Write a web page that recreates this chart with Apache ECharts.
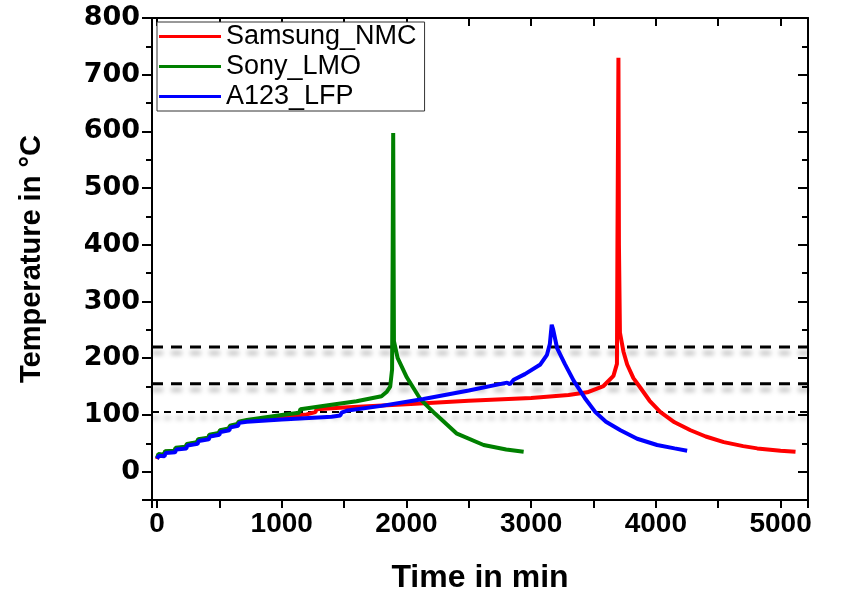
<!DOCTYPE html>
<html>
<head>
<meta charset="utf-8">
<script src="https://cdn.jsdelivr.net/npm/echarts@6/dist/echarts.min.js"></script>
<style>
  html, body { margin: 0; padding: 0; background: #fff; }
  #chart { width: 846px; height: 599px; }
</style>
</head>
<body>
<div id="chart"></div>
<script>
// time (min), temperature (°C)
const samsungNMC = [
  [0, 22], [12, 30], [55, 29], [65, 35], [140, 36], [150, 41], [230, 43], [240, 48],
  [320, 51], [330, 56], [410, 59], [420, 64], [495, 67], [505, 72], [575, 75], [585, 80],
  [645, 83], [655, 87], [720, 90], [1000, 96], [1200, 101], [1210, 104], [1270, 105],
  [1280, 110], [1500, 113], [2000, 119], [2500, 125], [3000, 130], [3300, 135],
  [3450, 140], [3580, 151], [3660, 169], [3688, 190], [3692, 400], [3700, 730],
  [3704, 400], [3712, 245], [3740, 212], [3770, 189], [3820, 165], [3876, 148],
  [3950, 125], [4037, 105], [4150, 87], [4278, 73], [4400, 62], [4545, 52],
  [4700, 45], [4813, 41], [5000, 37], [5120, 35]
];
const sonyLMO = [
  [0, 24], [12, 31], [55, 30], [65, 36], [140, 37], [150, 42], [230, 44], [240, 49],
  [320, 52], [330, 57], [410, 60], [420, 65], [495, 68], [505, 73], [575, 76], [585, 81],
  [645, 84], [655, 88], [720, 91], [1000, 100], [1140, 104], [1150, 110], [1400, 118],
  [1600, 124], [1800, 133], [1843, 141], [1870, 150], [1885, 180], [1890, 400],
  [1894, 597], [1897, 400], [1900, 230], [1930, 200], [2004, 166], [2111, 128],
  [2231, 102], [2405, 67], [2619, 47], [2800, 39], [2940, 35]
];
const a123LFP = [
  [0, 23], [15, 28], [60, 27], [70, 33], [145, 34], [155, 39], [235, 41], [245, 46],
  [325, 49], [335, 54], [415, 57], [425, 62], [500, 65], [510, 70], [580, 73], [590, 78],
  [650, 81], [660, 86], [720, 88], [1000, 92], [1400, 97], [1470, 99], [1480, 104],
  [1530, 108], [1800, 116], [2137, 128], [2500, 143], [2807, 157], [2830, 154],
  [2860, 162], [2950, 172], [3074, 189], [3127, 206], [3150, 225], [3165, 259],
  [3175, 252], [3208, 218], [3270, 190], [3342, 160], [3430, 130], [3515, 105],
  [3600, 88], [3716, 73], [3850, 58], [4010, 47], [4150, 41], [4251, 37]
];
const thresholds = [220, 155, 105];
const seriesNames = ['Samsung_NMC', 'Sony_LMO', 'A123_LFP'];
const xMin = -40, xMax = 5220, lineEnd = 5530;
const yMin = -50, yMax = 800;

const chart = echarts.init(document.getElementById('chart'));

const tickFont = { color: '#000', fontWeight: 'bold' };

function curve(name, data, color) {
  return {
    name: name,
    type: 'line',
    data: data,
    symbol: 'none',
    z: 3,
    lineStyle: { color: color, width: 4 },
    itemStyle: { color: color }
  };
}

function dashed(v, i) {
  const thin = i === 2;
  return {
    type: 'line',
    data: [[xMin, v], [lineEnd, v]],
    symbol: 'none',
    clip: false,
    silent: true,
    z: 2,
    lineStyle: {
      color: '#000',
      width: thin ? 2 : 3,
      type: thin ? [7, 5] : [11, 8],
      shadowColor: 'rgba(0,0,0,0.35)',
      shadowBlur: 5,
      shadowOffsetY: 6
    }
  };
}

chart.setOption({
  animation: false,
  backgroundColor: '#fff',
  grid: { left: 152, right: 38, top: 18, bottom: 87 },
  legend: {
    data: seriesNames,
    orient: 'vertical',
    left: 157,
    top: 22,
    icon: 'rect',
    itemWidth: 62,
    itemHeight: 3,
    itemGap: 3,
    padding: [1, 8, 1, 2],
    borderColor: '#333',
    borderWidth: 1,
    borderRadius: 0,
    backgroundColor: '#fff',
    textStyle: { fontFamily: 'Liberation Sans, Arial', fontSize: 27, color: '#000' }
  },
  xAxis: [
    {
      type: 'value',
      min: xMin,
      max: xMax,
      name: 'Time in min',
      nameLocation: 'middle',
      nameGap: 62,
      nameTextStyle: { fontFamily: 'Liberation Sans, Arial', fontSize: 32, fontWeight: 'bold', color: '#000' },
      axisLine: { onZero: false, lineStyle: { color: '#000', width: 2 } },
      axisTick: { length: 8, lineStyle: { color: '#000', width: 2 } },
      minorTick: { show: true, splitNumber: 2, length: 8, lineStyle: { color: '#000', width: 2 } },
      splitLine: { show: false },
      axisLabel: Object.assign({
        fontFamily: 'Liberation Sans, Arial', fontSize: 28, margin: 10,
        showMinLabel: false, showMaxLabel: false,
        formatter: function (v) { return String(v); }
      }, tickFont)
    },
    {
      type: 'value',
      position: 'top',
      min: xMin,
      max: xMax,
      axisLine: { onZero: false, lineStyle: { color: '#000', width: 2 } },
      axisTick: { inside: true, length: 8, lineStyle: { color: '#000', width: 2 } },
      minorTick: { show: true, splitNumber: 2, length: 8, lineStyle: { color: '#000', width: 2 } },
      splitLine: { show: false },
      axisLabel: { show: false }
    }
  ],
  yAxis: [
    {
      type: 'value',
      min: yMin,
      max: yMax,
      splitNumber: 8,
      name: 'Temperature in °C',
      nameLocation: 'middle',
      nameGap: 106,
      nameTextStyle: { fontFamily: 'Liberation Sans, Arial', fontSize: 29, fontWeight: 'bold', color: '#000' },
      axisLine: { onZero: false, lineStyle: { color: '#000', width: 2 } },
      axisTick: { length: 10, lineStyle: { color: '#000', width: 2 } },
      minorTick: { show: true, splitNumber: 2, length: 6, lineStyle: { color: '#000', width: 2 } },
      splitLine: { show: false },
      axisLabel: Object.assign({ fontFamily: 'DejaVu Sans', fontSize: 27, margin: 12, showMinLabel: false }, tickFont)
    },
    {
      type: 'value',
      position: 'right',
      min: yMin,
      max: yMax,
      splitNumber: 8,
      axisLine: { onZero: false, lineStyle: { color: '#000', width: 2 } },
      axisTick: { inside: true, length: 10, lineStyle: { color: '#000', width: 2 } },
      minorTick: { show: true, splitNumber: 2, length: 6, lineStyle: { color: '#000', width: 2 } },
      splitLine: { show: false },
      axisLabel: { show: false }
    }
  ],
  series: [
    curve(seriesNames[0], samsungNMC, '#ff0000'),
    curve(seriesNames[1], sonyLMO, '#008000'),
    curve(seriesNames[2], a123LFP, '#0000ff')
  ].concat(thresholds.map(dashed))
});
</script>
</body>
</html>
